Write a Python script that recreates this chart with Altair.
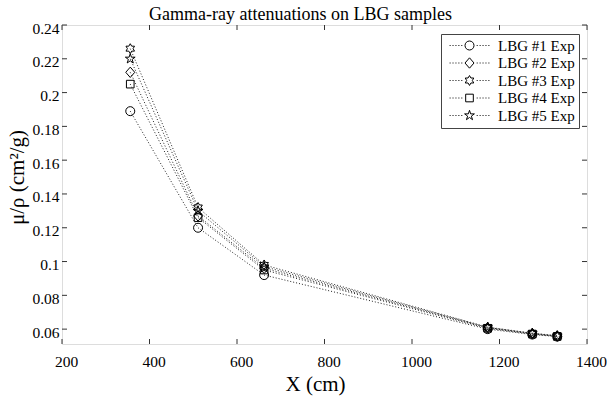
import altair as alt
import pandas as pd

# ---- data ----
energies = [356, 511, 662, 1173, 1275, 1332]
series_names = ["LBG #1 Exp", "LBG #2 Exp", "LBG #3 Exp", "LBG #4 Exp", "LBG #5 Exp"]
lbg1 = [0.189, 0.120, 0.092, 0.0600, 0.0568, 0.0556]
lbg2 = [0.212, 0.127, 0.096, 0.0607, 0.0572, 0.0558]
lbg3 = [0.226, 0.132, 0.098, 0.0612, 0.0576, 0.0561]
lbg4 = [0.205, 0.126, 0.095, 0.0605, 0.0571, 0.0557]
lbg5 = [0.220, 0.130, 0.097, 0.0610, 0.0575, 0.0560]
x_ticks = [200, 400, 600, 800, 1000, 1200, 1400]
y_ticks = [0.06, 0.08, 0.10, 0.12, 0.14, 0.16, 0.18, 0.20, 0.22, 0.24]

rows = []
for name, vals in zip(series_names, [lbg1, lbg2, lbg3, lbg4, lbg5]):
    for e, v in zip(energies, vals):
        rows.append({"x": e, "mu": v, "series": name})
df = pd.DataFrame(rows)
df_xt = pd.DataFrame({"x": x_ticks})
df_yt = pd.DataFrame({"mu": y_ticks})

# ---- marker shapes (unit box -1..1) ----
circle = "M1,0A1,1 0 1,1 -1,0A1,1 0 1,1 1,0Z"
diamond = "M0,-1.15L1,0L0,1.15L-1,0Z"
hexagram = ("M0,-1.1L0.32,-0.55L0.95,-0.55L0.63,0L0.95,0.55L0.32,0.55L0,1.1"
            "L-0.32,0.55L-0.95,0.55L-0.63,0L-0.95,-0.55L-0.32,-0.55Z")
square = "M-0.85,-0.85L0.85,-0.85L0.85,0.85L-0.85,0.85Z"
pentagram = ("M0,-1.15L0.26,-0.36L1.09,-0.36L0.42,0.14L0.68,0.93L0,0.44"
             "L-0.68,0.93L-0.42,0.14L-1.09,-0.36L-0.26,-0.36Z")
markers = [circle, diamond, hexagram, square, pentagram]

dots = ""
for p in [1.6, 2.25, 2.9, 3.55, 4.2]:
    dots += "M%.2f,0L%.2f,0M%.2f,0L%.2f,0" % (p, p + 0.22, -p - 0.22, -p)
legend_shapes = [m + dots for m in markers]

W, H = 525, 319
FONT = "Liberation Serif"
xs = alt.Scale(domain=[200, 1400], nice=False, zero=False)
ys = alt.Scale(domain=[0.0512, 0.24], nice=False, zero=False)

x_axis = alt.Axis(values=x_ticks, format="d", ticks=False, domain=False, grid=False,
                  labelFont=FONT, labelFontSize=15.5, labelPadding=10, labelColor="black",
                  labelOffset=4, labelFlush=False, labelOverlap=False,
                  title="X (cm)", titleFont=FONT, titleFontSize=21, titleFontWeight="normal",
                  titlePadding=4, titleColor="black", titleX=253)
y_axis = alt.Axis(values=y_ticks, format="~g", ticks=False, domain=False, grid=False,
                  labelFont=FONT, labelFontSize=15.5, labelPadding=3, labelColor="black",
                  labelOffset=3, labelFlush=False, labelOverlap=False,
                  title="\u03bc/\u03c1 (cm\u00b2/g)", titleFont=FONT, titleFontSize=21,
                  titleFontWeight="normal", titlePadding=4, titleColor="black", titleY=152)

X = alt.X("x:Q", scale=xs, axis=x_axis)
Y = alt.Y("mu:Q", scale=ys, axis=y_axis)

base = alt.Chart(df)
lines = base.mark_line(strokeDash=[1, 2], strokeWidth=1, color="#222").encode(
    x=X, y=Y, detail="series:N", order="x:Q",
)
points = base.mark_point(filled=False, color="black", strokeWidth=1, size=81, opacity=1).encode(
    x=X, y=Y,
    shape=alt.Shape("series:N", scale=alt.Scale(domain=series_names, range=markers), legend=None),
)
legend_layer = base.transform_filter("false").transform_calculate(
    leg="datum.series").mark_point(filled=False, color="black", strokeWidth=1, size=81, opacity=1).encode(
    shape=alt.Shape("leg:N", scale=alt.Scale(domain=series_names, range=legend_shapes),
                    legend=alt.Legend(title=None, orient="none", legendX=379, legendY=9,
                                      fillColor="white", strokeColor="#444", padding=4,
                                      labelFont=FONT, labelFontSize=15, labelColor="black",
                                      symbolSize=81, symbolStrokeColor="black",
                                      symbolStrokeWidth=1, symbolOffset=17, labelOffset=21,
                                      rowPadding=1.5)),
)

tick_col = "#333"
yt_left = alt.Chart(df_yt).mark_rule(color=tick_col, strokeWidth=1).encode(
    y=Y, x=alt.value(0), x2=alt.value(5))
yt_right = alt.Chart(df_yt).mark_rule(color=tick_col, strokeWidth=1).encode(
    y=Y, x=alt.value(W - 5), x2=alt.value(W))
xt_bottom = alt.Chart(df_xt).mark_rule(color=tick_col, strokeWidth=1).encode(
    x=X, y=alt.value(H - 5), y2=alt.value(H))
xt_top = alt.Chart(df_xt).mark_rule(color=tick_col, strokeWidth=1).encode(
    x=X, y=alt.value(0), y2=alt.value(5))

chart = alt.layer(lines, points, yt_left, yt_right, xt_bottom, xt_top, legend_layer).resolve_scale(
    shape="independent"
).properties(
    width=W, height=H,
    title=alt.Title("Gamma-ray attenuations on LBG samples", font=FONT, fontSize=18,
                    fontWeight="normal", color="black", offset=5, dy=8, dx=-24,
                    anchor="middle"),
    autosize=alt.AutoSizeParams(type="none"),
    padding={"left": 62, "top": 25, "right": 20, "bottom": 59},
).configure_view(stroke="#555", strokeWidth=1).configure(background="white")

chart.save("out.html", embed_options={"renderer": "svg", "actions": False})
